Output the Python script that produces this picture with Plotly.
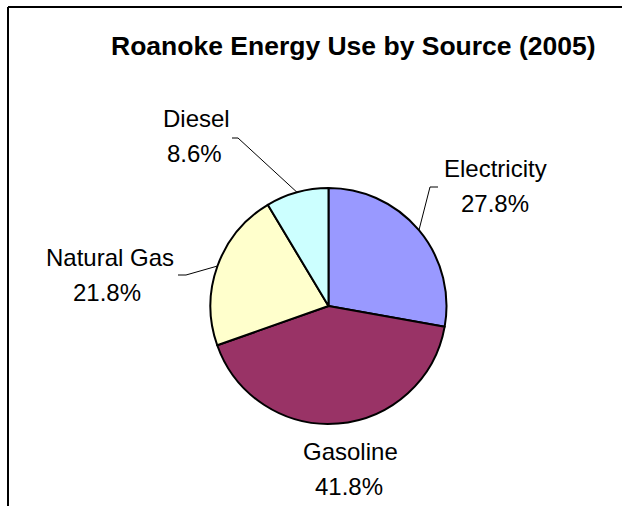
import math
import plotly.graph_objects as go

W, H = 622, 506

categories = ["Electricity", "Gasoline", "Natural Gas", "Diesel"]
values = [27.8, 41.8, 21.8, 8.6]
pct_labels = ["27.8%", "41.8%", "21.8%", "8.6%"]
colors = ["#9999FF", "#993366", "#FFFFCC", "#CCFFFF"]
title = "Roanoke Energy Use by Source (2005)"

# layout (pixels)
cx, cy, r = 328.5, 306.0, 118.0
label_pos = {  # name line centre, pct line centre
    "Electricity": ((495, 168), (495, 203)),
    "Gasoline": ((350, 451), (349, 486)),
    "Natural Gas": ((110, 257), (107, 292)),
    "Diesel": ((196, 118), (194, 153)),
}
leader_elbow = {  # elbow point, end point (pixels)
    "Electricity": ((430, 187), (438, 187)),
    "Natural Gas": ((186, 275), (178, 275)),
    "Diesel": ((238, 138), (232, 138)),
}


def px(x):
    return x / W


def py(y):
    return 1 - y / H


fig = go.Figure(go.Pie(
    labels=categories,
    values=values,
    sort=False,
    direction="clockwise",
    rotation=0,
    marker=dict(colors=colors, line=dict(color="black", width=2)),
    textinfo="none",
    hoverinfo="label+percent",
    showlegend=False,
    domain=dict(x=[px(cx - r), px(cx + r)], y=[py(cy + r), py(cy - r)]),
))

shapes = []
# chart area frame (top + left edges visible)
shapes.append(dict(type="line", xref="paper", yref="paper", x0=px(8), y0=py(7), x1=px(W + 10), y1=py(7),
                   line=dict(color="black", width=2)))
shapes.append(dict(type="line", xref="paper", yref="paper", x0=px(8), y0=py(7), x1=px(8), y1=py(H + 10),
                   line=dict(color="black", width=2)))

total = sum(values)
cum = 0.0
for cat, v in zip(categories, values):
    mid = (cum + v / 2) / total * 2 * math.pi
    cum += v
    if cat not in leader_elbow:
        continue
    sx = cx + r * math.sin(mid)
    sy = cy - r * math.cos(mid)
    (ex, ey), (tx, ty) = leader_elbow[cat]
    shapes.append(dict(type="path", xref="paper", yref="paper",
                       path=f"M {px(sx)} {py(sy)} L {px(ex)} {py(ey)} L {px(tx)} {py(ty)}",
                       line=dict(color="black", width=1)))

annotations = [dict(text=f"<b>{title}</b>", x=px(353), y=py(46), xref="paper", yref="paper",
                    showarrow=False, xanchor="center", yanchor="middle",
                    font=dict(family="Liberation Sans, Arial", size=26.5, color="black"))]
for cat, pl in zip(categories, pct_labels):
    (nx, ny), (qx, qy) = label_pos[cat]
    for t, (x, y) in ((cat, (nx, ny)), (pl, (qx, qy))):
        annotations.append(dict(text=t, x=px(x), y=py(y), xref="paper", yref="paper",
                                showarrow=False, xanchor="center", yanchor="middle",
                                font=dict(family="Liberation Sans, Arial", size=24, color="black")))

fig.update_layout(
    width=W, height=H,
    margin=dict(l=0, r=0, t=0, b=0),
    paper_bgcolor="white",
    plot_bgcolor="white",
    shapes=shapes,
    annotations=annotations,
)

fig.write_html("out.html")
